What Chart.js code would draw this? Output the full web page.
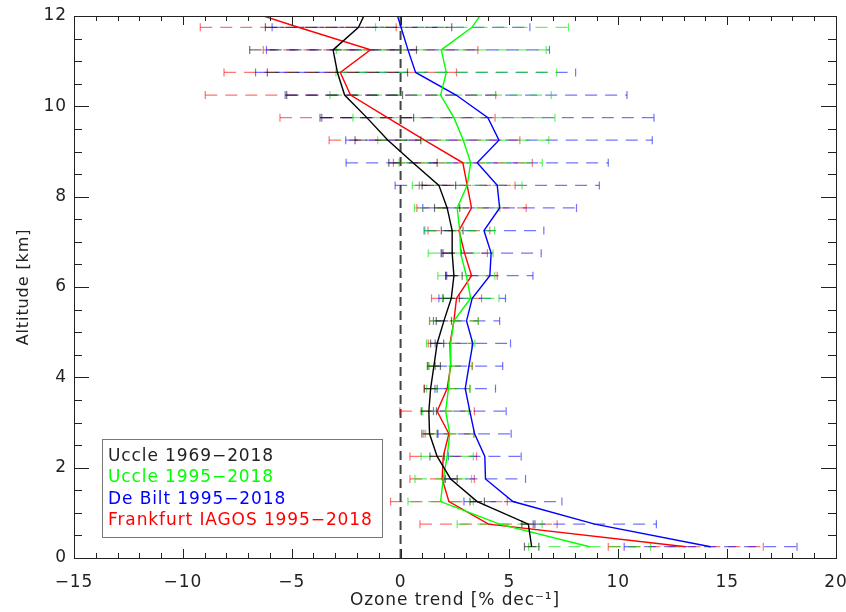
<!DOCTYPE html>
<html>
<head>
<meta charset="utf-8">
<script src="https://cdn.jsdelivr.net/npm/chart.js@4.4.1/dist/chart.umd.min.js"></script>
<style>
  html, body { margin: 0; padding: 0; background: #fff; }
  #c { display: block; }
</style>
</head>
<body>
<canvas id="c" width="846" height="612"></canvas>
<script>
// === data ===
// last level (12.25 km) only carries the lines up past the top frame
const altitude = [0.25, 0.75, 1.25, 1.75, 2.25, 2.75, 3.25, 3.75, 4.25, 4.75, 5.25, 5.75,
                  6.25, 6.75, 7.25, 7.75, 8.25, 8.75, 9.25, 9.75, 10.25, 10.75, 11.25, 11.75, 12.25];

const uccleLongTrend = [6.02, 5.87, 3.52, 2.30, 1.68, 1.33, 1.30, 1.38, 1.53, 1.68, 1.99, 2.33,
                        2.45, 2.37, 2.37, 2.14, 1.76, 0.57, -0.58, -1.55, -2.57, -2.90, -3.10, -1.93, -1.45];
const uccleLongErr = [0.33, 0.30, 0.33, 0.30, 0.33, 0.35, 0.35, 0.30, 0.30, 0.30, 0.35, 0.37,
                      0.38, 0.42, 0.50, 0.58, 0.77, 1.11, 1.51, 2.15, 2.66, 3.22, 3.83, 4.28, null];

const uccleShortTrend = [8.68, 4.55, 1.84, 1.96, 2.14, 2.26, 2.07, 2.20, 2.28, 2.30, 2.45, 3.22,
                         3.02, 2.76, 2.72, 2.60, 3.06, 3.22, 2.88, 2.45, 1.84, 2.10, 1.87, 3.28, 4.00];
const uccleShortErr = [2.80, 1.95, 1.50, 1.30, 1.20, 1.11, 1.07, 1.00, 1.00, 1.11, 1.12, 1.30,
                       1.31, 1.49, 1.60, 1.96, 2.52, 3.29, 3.93, 4.64, 5.08, 5.07, 4.82, 4.43, null];

const deBiltTrend = [14.24, 8.92, 5.16, 3.90, 3.87, 3.40, 3.18, 2.97, 3.14, 3.32, 3.03, 3.29,
                     4.10, 4.16, 3.83, 4.55, 4.44, 3.52, 4.52, 4.01, 2.55, 0.69, 0.34, 0.02, -0.30];
const deBiltErr = [3.97, 2.83, 2.25, 1.84, 1.67, 1.68, 1.67, 1.39, 1.55, 1.73, 1.52, 1.53,
                   1.98, 2.30, 2.75, 3.53, 4.69, 6.02, 7.04, 7.63, 7.85, 7.35, 6.50, 5.92, null];

const frankfurtTrend = [13.10, 4.04, 2.22, 1.91, 1.96, 2.22, 1.68, 2.14, 2.30, 2.27, 2.45, 2.57,
                        3.26, 2.94, 2.68, 3.26, 3.06, 2.86, 1.10, -0.60, -2.30, -2.77, -1.38, -4.70, -7.90];
const frankfurtErr = [3.56, 3.15, 2.68, 1.48, 1.53, 1.15, 1.71, 1.04, 1.00, 1.00, 1.12, 1.15,
                      1.18, 1.05, 1.42, 2.51, 2.20, 3.19, 4.38, 4.94, 6.67, 5.34, 4.93, 4.50, null];

const seriesLabels = ["Uccle 1969\u22122018", "Uccle 1995\u22122018", "De Bilt 1995\u22122018", "Frankfurt IAGOS 1995\u22122018"];
const seriesColors = ["#000000", "#00ff00", "#0000ff", "#ff0000"];
const barColors = ["rgba(0,0,0,0.55)", "rgba(0,230,0,0.6)", "rgba(0,0,255,0.55)", "rgba(255,0,0,0.55)"];

const xTicks = [-15, -10, -5, 0, 5, 10, 15, 20];
const yTicks = [0, 2, 4, 6, 8, 10, 12];
const zeroLine = [0, 12];

const FONT = "'DejaVu Sans', sans-serif";

// === helpers ===
const toPoints = (vals) => vals.map((v, i) => ({ x: v, y: altitude[i] }));
function toBars(vals, errs) {
  const out = [];
  vals.forEach((v, i) => {
    if (errs[i] == null) return;
    out.push({ x: v - errs[i], y: altitude[i] }, { x: v + errs[i], y: altitude[i] }, { x: null, y: null });
  });
  return out;
}

const trends = [uccleLongTrend, uccleShortTrend, deBiltTrend, frankfurtTrend];
const errors = [uccleLongErr, uccleShortErr, deBiltErr, frankfurtErr];

const datasets = [];
trends.forEach((t, k) => {
  datasets.push({
    label: seriesLabels[k],
    data: toPoints(t),
    showLine: true,
    borderColor: seriesColors[k],
    borderWidth: 1.4,
    pointRadius: 0,
    order: 0
  });
});
errors.forEach((e, k) => {
  datasets.push({
    label: seriesLabels[k] + " err",
    data: toBars(trends[k], e),
    showLine: true,
    spanGaps: false,
    borderColor: barColors[k],
    borderWidth: 1.2,
    borderDash: [12, 8],
    pointStyle: "line",
    rotation: 90,
    pointRadius: 4,
    pointBorderWidth: 1.2,
    pointBorderColor: barColors[k],
    order: 1
  });
});
datasets.push({
  label: "zero",
  data: zeroLine.map(v => ({ x: 0, y: v })),
  showLine: true,
  borderColor: "#444",
  borderWidth: 2,
  borderDash: [9, 5],
  pointRadius: 0,
  order: 2
});

// === frame with inward ticks + legend box ===
const framePlugin = {
  id: "frame",
  beforeDraw(chart) { chart.ctx.letterSpacing = "0.9px"; },
  afterDatasetsDraw(chart) {
    const { ctx, chartArea: a, scales: { x, y } } = chart;
    ctx.save();
    ctx.strokeStyle = "#222";
    ctx.lineWidth = 1;
    ctx.strokeRect(a.left + 0.5, a.top + 0.5, a.right - a.left, a.bottom - a.top);
    ctx.beginPath();
    for (let v = x.min; v <= x.max; v++) {
      const px = Math.round(x.getPixelForValue(v)) + 0.5;
      const len = v % 5 === 0 ? 9 : 5;
      ctx.moveTo(px, a.bottom); ctx.lineTo(px, a.bottom - len);
      ctx.moveTo(px, a.top); ctx.lineTo(px, a.top + len);
    }
    for (let v = y.min; v <= y.max; v += 0.5) {
      const py = Math.round(y.getPixelForValue(v)) + 0.5;
      const len = v % 2 === 0 ? 15 : 8;
      ctx.moveTo(a.left, py); ctx.lineTo(a.left + len, py);
      ctx.moveTo(a.right, py); ctx.lineTo(a.right - len, py);
    }
    ctx.stroke();

    // legend
    const bx = a.left + 28, by = a.bottom - 119, bw = 280, bh = 98;
    ctx.fillStyle = "#fff";
    ctx.fillRect(bx, by, bw, bh);
    ctx.strokeStyle = "#777";
    ctx.strokeRect(bx + 0.5, by + 0.5, bw, bh);
    ctx.font = "17px " + FONT;
    ctx.textBaseline = "middle";
    ctx.textAlign = "left";
    seriesLabels.forEach((s, k) => {
      ctx.fillStyle = seriesColors[k] === "#000000" ? "#222" : seriesColors[k];
      ctx.fillText(s, bx + 6, by + 17.5 + k * 21.5);
    });
    ctx.restore();
  }
};

new Chart(document.getElementById("c"), {
  type: "scatter",
  data: { datasets },
  options: {
    responsive: false,
    animation: false,
    layout: { padding: { top: 16, right: 10, left: 0, bottom: 0 } },
    plugins: { legend: { display: false }, tooltip: { enabled: false } },
    scales: {
      x: {
        type: "linear", min: -15, max: 20,
        afterBuildTicks: (s) => { s.ticks = xTicks.map(v => ({ value: v })); },
        afterFit: (s) => { s.height = 54; s.paddingLeft = 0; s.paddingRight = 0; },
        grid: { display: false, drawTicks: false }, border: { display: false },
        ticks: {
          color: "#222", padding: 14, maxRotation: 0,
          font: { family: FONT, size: 17 },
          callback: (v) => String(v).replace("-", "\u2212")
        },
        title: {
          display: true, text: "Ozone trend [% dec\u207B\u00B9]", color: "#222",
          font: { family: FONT, size: 17 }, padding: { top: 0, bottom: 1 }
        }
      },
      y: {
        type: "linear", min: 0, max: 12,
        afterBuildTicks: (s) => { s.ticks = yTicks.map(v => ({ value: v })); },
        afterFit: (s) => { s.width = 74; s.paddingTop = 0; s.paddingBottom = 0; },
        grid: { display: false, drawTicks: false }, border: { display: false },
        ticks: {
          color: "#222", padding: 7,
          font: { family: FONT, size: 17 }
        },
        title: {
          display: true, text: "Altitude [km]", color: "#222",
          font: { family: FONT, size: 16 }, padding: { top: 14, bottom: 0 }
        }
      }
    }
  },
  plugins: [framePlugin]
});
</script>
</body>
</html>
